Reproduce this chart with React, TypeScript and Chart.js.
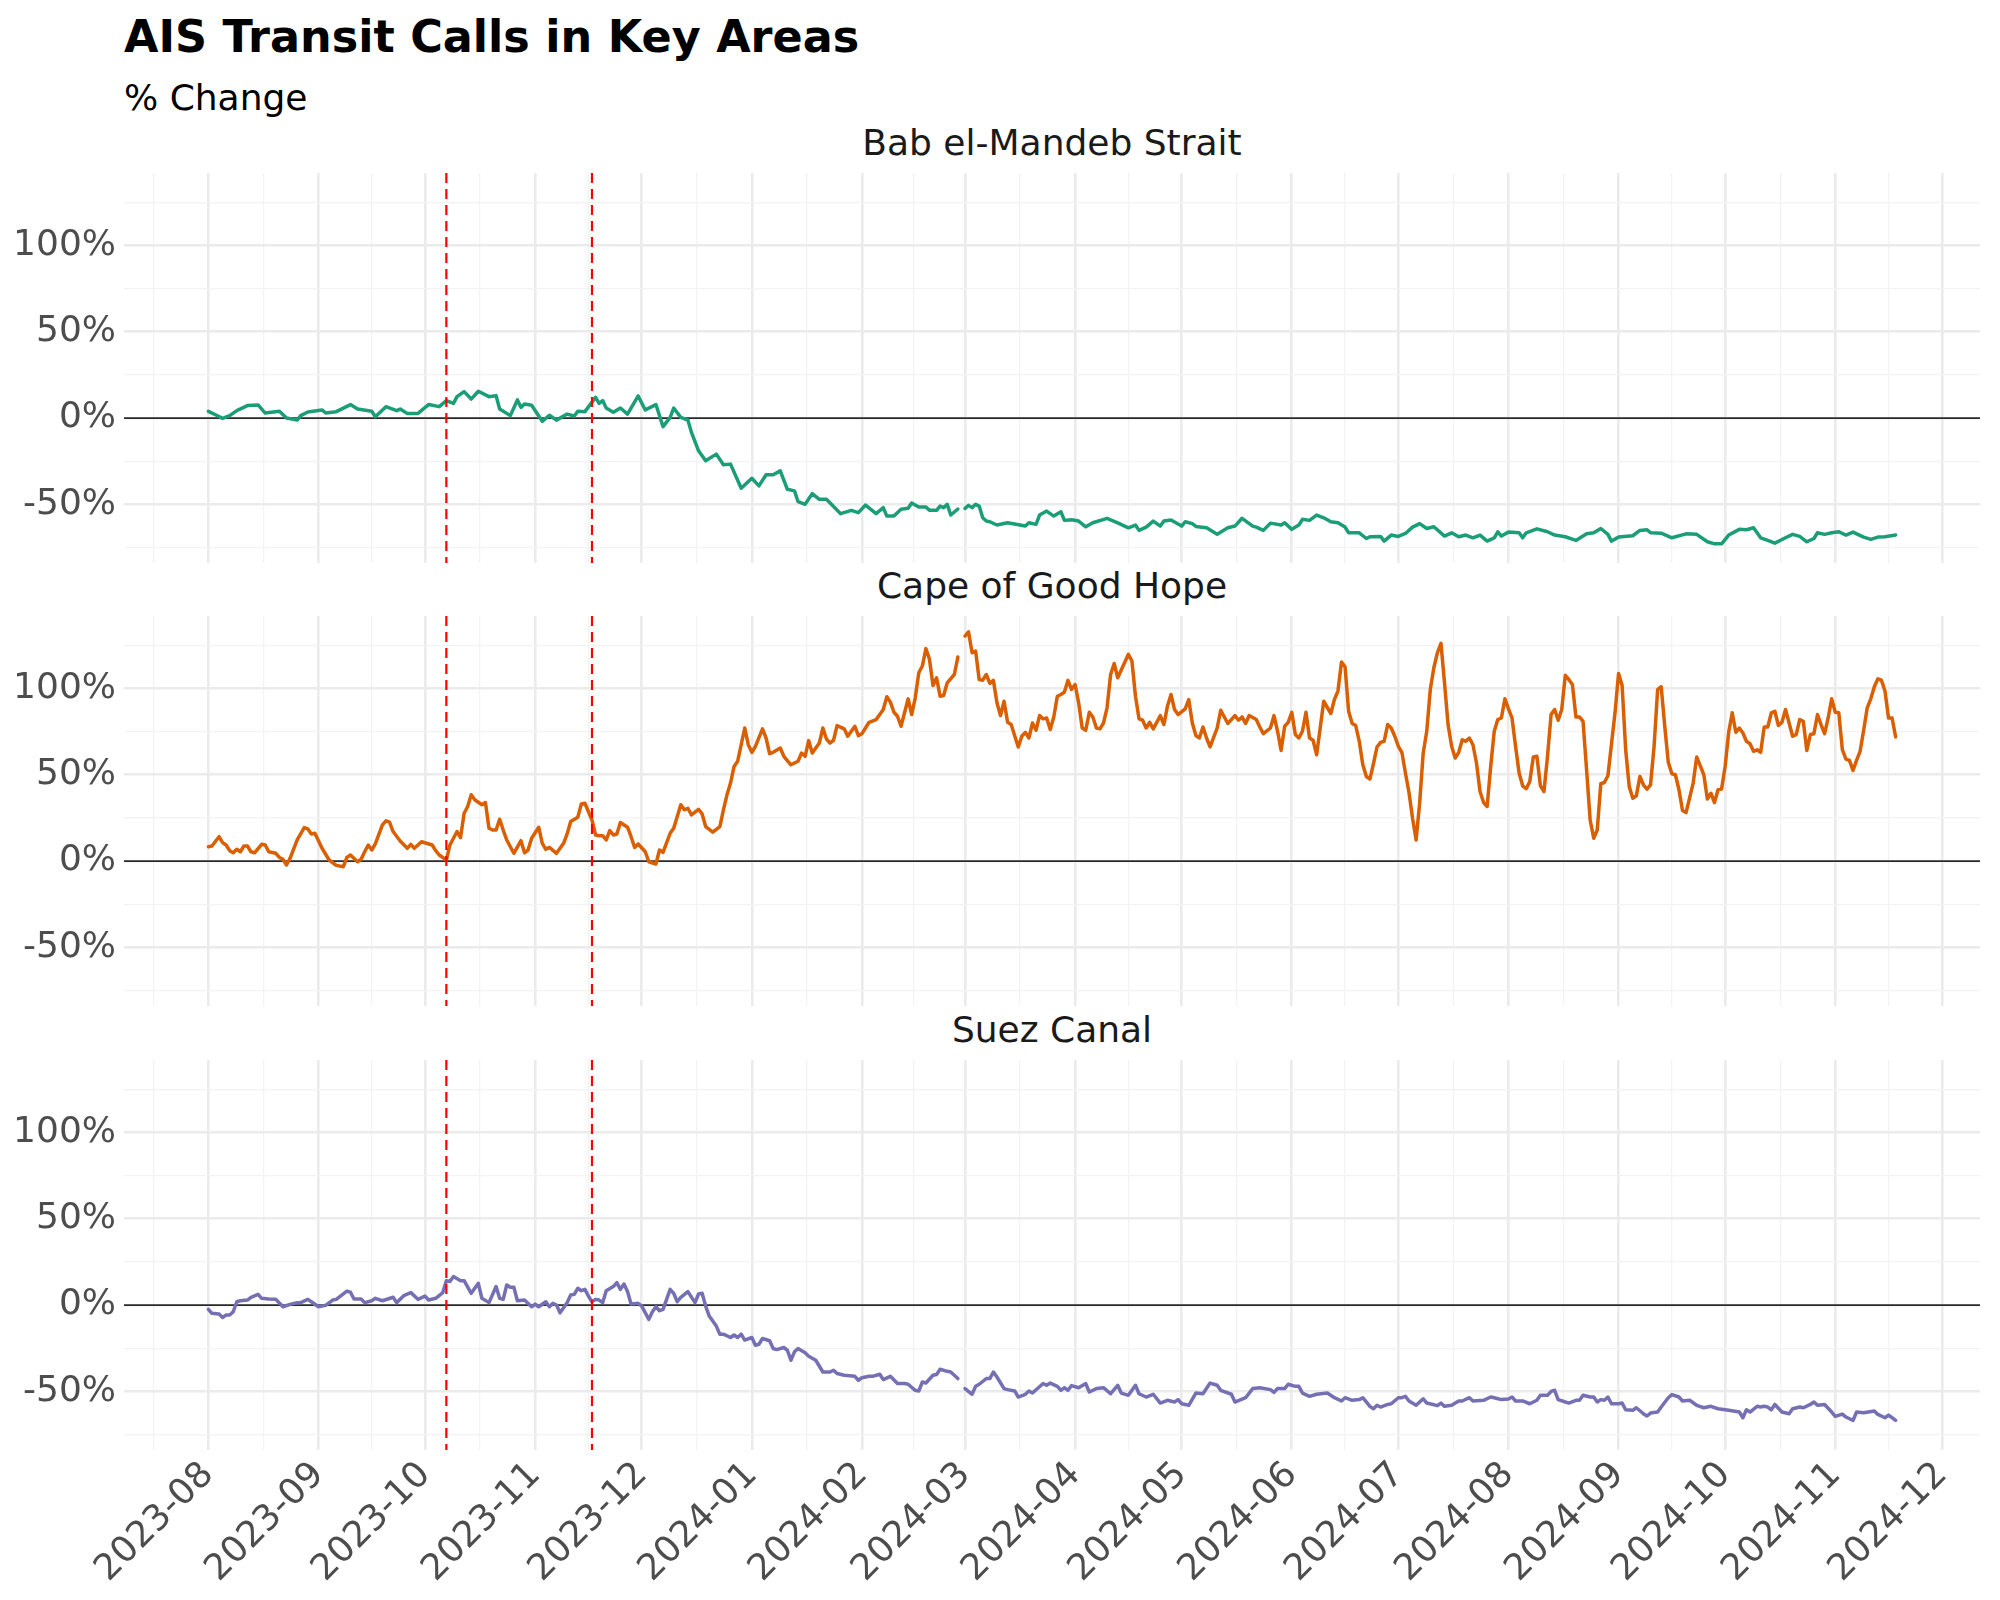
import React, { useEffect, useRef } from "react";
import { Chart, registerables } from "chart.js";

Chart.register(...registerables);

// ---------------- data ----------------
const START_DATE = "2023-08-01";
const MONTH_STARTS = [
  "2023-07-01", "2023-08-01", "2023-09-01", "2023-10-01", "2023-11-01", "2023-12-01",
  "2024-01-01", "2024-02-01", "2024-03-01", "2024-04-01", "2024-05-01", "2024-06-01",
  "2024-07-01", "2024-08-01", "2024-09-01", "2024-10-01", "2024-11-01", "2024-12-01", "2025-01-01",
];
const EVENT_DATES = ["2023-10-07", "2023-11-17"];
const Y_MAJOR = [-50, 0, 50, 100];
const Y_MINOR = [-75, -25, 25, 75, 125];
const TITLE = "AIS Transit Calls in Key Areas";
const SUBTITLE = "% Change";
const AREA_NAMES = ["Bab el-Mandeb Strait", "Cape of Good Hope", "Suez Canal"];
const AREA_COLORS = ["#1b9e77", "#d95f02", "#7570b3"];

// [days since START_DATE, % change]; null = missing day (2024-02-29)
const BAB: [number, number | null][] = [
  [0,3.9],[2,1.9],[4,-0.2],[6,1.4],[8,4.3],[11,7.2],[14,7.6],[16,2.9],[20,3.9],[22,0],[25,-1.2],[26,1.4],[28,3.5],[32,4.7],[33,2.9],[36,3.7],[40,7.8],[42,5.2],[46,3.9],[47,0.8],[50,6.6],[53,4.3],[54,5.2],[56,2.7],[59,2.7],[62,7.8],[65,6.6],[67,10.1],[69,8.5],[70,12.4],[72,15.3],[74,11.0],[76,15.5],[79,12.4],[81,13.0],[82,5.2],[85,1.4],[87,10.5],[88,6.2],[89,8.1],[91,7.4],[94,-1.9],[96,1.6],[98,-1.2],[101,2.3],[103,1.2],[104,3.9],[106,3.7],[109,12.0],[110,8.5],[111,10.1],[112,5.8],[114,3.3],[116,5.8],[118,2.3],[121,12.8],[123,4.7],[126,7.8],[128,-5.0],[130,0.4],[131,5.8],[133,0.4],[135,-1.2],[136,-8.3],[138,-19.0],[140,-24.8],[143,-20.9],[145,-27.1],[147,-26.7],[150,-40.7],[153,-34.9],[155,-39.3],[157,-32.9],[159,-32.9],[161,-30.6],[163,-41.3],[165,-42.2],[166,-48.4],[168,-50.0],[170,-43.8],[172,-47.1],[174,-47.1],[178,-55.4],[181,-53.5],[183,-54.8],[185,-50.4],[188,-55.4],[190,-51.9],[191,-56.8],[193,-56.8],[195,-52.9],[197,-52.3],[198,-49.2],[200,-51.5],[202,-51.5],[203,-53.5],[205,-53.5],[206,-51.0],[207,-51.9],[208,-50.0],[209,-56.2],[211,-52.7],[212,null],[213,-52.3],[214,-50.6],[215,-51.9],[216,-50.0],[217,-51.0],[218,-57.8],[219,-59.7],[220,-60.1],[222,-62.0],[225,-60.7],[230,-62.6],[231,-60.7],[233,-61.6],[234,-56.2],[236,-53.9],[238,-56.8],[240,-54.3],[241,-59.3],[243,-58.9],[245,-59.7],[247,-63.0],[249,-60.7],[253,-58.1],[256,-60.7],[259,-63.6],[261,-62.0],[262,-65.1],[264,-63.2],[266,-59.7],[268,-62.6],[269,-59.7],[271,-59.1],[274,-62.6],[275,-60.1],[277,-61.2],[278,-62.8],[281,-63.6],[284,-67.4],[287,-63.6],[289,-62.6],[291,-58.1],[294,-62.6],[295,-63.2],[297,-65.1],[299,-60.9],[302,-62.0],[303,-60.7],[305,-64.5],[307,-62.0],[308,-58.7],[310,-59.3],[312,-56.2],[314,-57.8],[316,-60.1],[318,-60.7],[320,-63.2],[321,-66.5],[324,-66.5],[326,-69.8],[327,-68.8],[330,-68.6],[331,-71.3],[333,-67.8],[335,-68.6],[337,-66.9],[339,-63.2],[341,-61.2],[343,-64.0],[345,-63.0],[348,-68.4],[350,-66.5],[352,-68.8],[354,-67.8],[356,-69.4],[358,-67.8],[360,-71.3],[362,-69.4],[363,-65.9],[364,-68.4],[366,-66.1],[369,-66.5],[370,-69.4],[371,-66.5],[374,-64.2],[377,-65.9],[379,-67.8],[382,-68.8],[385,-70.9],[388,-67.1],[390,-66.5],[392,-64.0],[394,-67.4],[395,-71.3],[397,-69.0],[401,-68.2],[403,-65.1],[405,-64.7],[406,-66.5],[409,-66.7],[412,-69.4],[416,-67.1],[419,-67.4],[422,-71.7],[424,-72.9],[426,-72.9],[428,-67.8],[431,-64.5],[433,-64.7],[435,-63.6],[437,-69.4],[439,-70.9],[441,-72.5],[444,-69.4],[446,-67.4],[448,-68.6],[450,-71.7],[452,-69.8],[453,-66.5],[455,-67.4],[457,-66.5],[459,-65.9],[461,-67.8],[463,-66.1],[466,-69.0],[468,-70.3],[470,-69.0],[472,-68.8],[475,-67.8],
];

const CAPE: [number, number | null][] = [
  [0,8.3],[1,8.7],[3,14.1],[4,10.7],[5,9.3],[6,6.0],[7,4.8],[8,6.8],[9,5.4],[10,8.7],[11,8.7],[12,5.4],[13,4.8],[15,9.7],[16,9.3],[17,5.4],[19,4.5],[20,2.1],[21,1.0],[22,-2.3],[23,1.6],[25,12.2],[27,19.4],[28,18.6],[29,15.7],[30,16.1],[32,7.4],[34,0.6],[36,-2.5],[38,-3.3],[39,2.1],[40,3.5],[42,-0.4],[43,1.0],[44,5.4],[45,9.3],[46,6.4],[47,9.9],[49,20.9],[50,23.3],[51,22.5],[52,17.1],[54,11.6],[56,7.4],[57,9.7],[58,7.4],[60,11.2],[63,9.3],[64,6.0],[65,3.5],[67,0.6],[68,9.3],[70,17.1],[71,13.6],[72,27.7],[73,31.6],[74,38.4],[75,35.5],[77,32.6],[78,33.9],[79,19.0],[80,18.0],[81,18.0],[82,24.2],[83,18.0],[84,12.2],[86,4.5],[88,11.8],[89,4.8],[90,6.4],[91,13.2],[93,19.6],[94,10.3],[95,6.8],[96,7.9],[98,4.5],[100,10.3],[101,15.7],[102,22.9],[104,25.4],[105,33.1],[106,33.5],[108,23.8],[109,15.1],[110,14.7],[111,14.7],[112,12.2],[113,17.6],[114,15.1],[115,15.7],[116,22.3],[118,19.6],[119,14.1],[120,7.9],[121,9.9],[123,5.4],[124,-0.4],[126,-1.7],[127,6.4],[128,5.0],[130,16.1],[131,19.0],[133,32.6],[134,29.7],[135,30.6],[136,26.7],[138,30.0],[139,27.3],[140,20.0],[142,16.7],[144,20.0],[145,29.7],[146,38.4],[147,45.2],[148,54.8],[149,57.8],[151,77.1],[152,67.4],[153,63.0],[154,66.5],[156,76.6],[157,71.3],[158,62.2],[159,63.0],[161,65.5],[162,60.7],[164,55.8],[165,56.8],[166,57.8],[167,62.6],[168,60.7],[169,69.8],[170,62.6],[172,68.4],[173,77.1],[174,70.7],[175,68.4],[176,70.0],[177,78.5],[179,76.6],[180,72.3],[182,78.1],[183,72.7],[184,73.8],[186,80.4],[188,82.0],[190,87.8],[191,95.2],[192,92.1],[193,86.2],[194,83.9],[195,78.1],[197,94.0],[198,84.9],[199,94.6],[200,109.1],[201,113.0],[202,123.1],[203,116.9],[204,101.7],[205,106.2],[206,95.5],[207,95.9],[208,103.3],[210,108.1],[211,118.2],[212,null],[213,130.4],[214,132.8],[215,120.7],[216,121.7],[217,105.2],[218,104.8],[219,108.1],[220,102.9],[221,104.7],[222,91.7],[223,84.3],[224,92.6],[225,80.4],[226,79.1],[228,66.1],[229,72.3],[230,74.6],[231,71.3],[232,80.0],[233,75.8],[234,84.3],[235,82.4],[236,82.9],[237,76.2],[238,83.5],[239,95.5],[240,96.5],[241,97.9],[242,104.7],[243,99.4],[244,102.3],[245,91.7],[246,77.1],[247,75.8],[248,86.2],[249,83.5],[250,77.1],[251,76.6],[252,80.0],[253,88.8],[254,108.1],[255,114.5],[256,106.2],[257,110.7],[259,119.8],[260,115.9],[261,95.5],[262,82.4],[263,81.6],[264,77.1],[265,80.4],[266,76.6],[268,84.3],[269,79.1],[270,89.7],[271,96.5],[272,87.8],[273,84.9],[275,88.2],[276,93.6],[277,80.0],[278,72.7],[279,71.3],[280,77.7],[281,71.3],[282,66.1],[284,77.1],[285,87.4],[287,79.7],[289,84.3],[290,81.6],[291,83.5],[292,79.7],[293,84.3],[295,82.0],[296,77.7],[297,73.8],[299,77.1],[300,84.3],[301,75.2],[302,64.1],[303,78.1],[304,80.4],[305,86.2],[306,73.3],[307,71.3],[308,75.2],[309,86.2],[310,71.3],[311,70.0],[312,61.6],[314,92.6],[316,85.5],[317,93.6],[318,98.5],[319,115.3],[320,112.6],[321,86.8],[322,79.7],[323,78.5],[324,69.4],[325,55.8],[326,49.0],[327,47.5],[328,56.4],[329,66.1],[330,68.8],[331,69.4],[332,79.1],[333,77.1],[334,72.3],[335,66.5],[336,63.0],[337,51.0],[338,39.7],[339,24.8],[340,12.2],[341,33.5],[342,62.6],[343,75.2],[344,99.4],[345,112.0],[346,120.7],[347,126.2],[348,103.3],[349,79.1],[350,66.5],[351,59.7],[352,63.0],[353,70.3],[354,69.4],[355,71.3],[356,67.4],[357,56.8],[358,40.3],[359,33.9],[360,31.6],[361,54.8],[362,75.2],[363,82.0],[364,82.9],[365,94.0],[366,88.2],[367,82.9],[368,66.5],[369,51.0],[370,43.6],[371,41.9],[372,46.1],[373,60.3],[374,60.7],[375,43.6],[376,40.3],[377,60.7],[378,84.9],[379,87.8],[380,81.6],[381,87.8],[382,107.6],[383,105.2],[384,102.3],[385,83.5],[386,83.5],[387,81.0],[388,52.9],[389,23.8],[390,13.2],[391,18.0],[392,44.8],[393,45.5],[394,49.4],[396,85.9],[397,108.7],[398,101.7],[399,64.5],[400,43.2],[401,36.4],[402,37.8],[403,49.0],[404,44.2],[405,41.7],[406,44.2],[407,66.5],[408,99.4],[409,101.0],[410,78.1],[411,57.2],[412,50.6],[413,50.0],[414,41.3],[415,29.3],[416,28.1],[418,45.2],[419,60.3],[420,55.2],[421,50.0],[422,35.9],[423,39.3],[424,33.9],[425,41.3],[426,41.7],[427,54.8],[428,74.6],[429,85.9],[430,74.6],[431,77.1],[432,74.2],[433,69.4],[434,68.0],[435,63.6],[436,64.5],[437,63.0],[438,77.7],[439,77.7],[440,85.9],[441,86.8],[442,78.5],[443,80.4],[444,87.8],[446,72.3],[447,73.3],[448,82.0],[449,81.0],[450,64.1],[451,73.3],[452,73.8],[453,84.9],[454,79.1],[455,73.8],[456,82.9],[457,94.0],[458,86.2],[459,85.9],[460,64.5],[461,59.1],[462,58.3],[463,52.5],[464,58.3],[465,63.6],[466,75.8],[467,88.8],[468,94.0],[469,101.0],[470,105.6],[471,104.8],[472,98.5],[473,82.9],[474,82.9],[475,71.9],
];

const SUEZ: [number, number | null][] = [
  [0,-2.5],[1,-4.8],[3,-5.2],[4,-7.2],[5,-5.8],[6,-5.8],[7,-3.9],[8,1.9],[9,2.5],[11,2.9],[12,4.5],[14,6.2],[15,3.9],[17,3.5],[19,3.3],[21,-1.0],[23,0.4],[25,1.4],[26,1.4],[28,3.3],[29,1.9],[31,-1.0],[33,-0.2],[35,2.9],[36,3.3],[39,8.1],[40,7.4],[41,3.5],[43,3.5],[44,1.4],[46,2.5],[47,3.9],[49,2.5],[52,4.5],[53,1.4],[55,5.4],[57,7.2],[59,3.3],[61,5.2],[62,2.9],[64,3.9],[66,7.2],[67,14.1],[68,13.6],[69,16.5],[71,14.1],[72,14.1],[74,6.8],[76,12.6],[77,3.9],[79,1.4],[81,10.7],[82,3.9],[83,3.3],[84,11.6],[85,10.3],[86,10.3],[87,2.5],[89,2.9],[91,-1.0],[92,0.6],[93,-1.0],[95,1.9],[96,-1.0],[97,1.0],[98,0],[99,-4.5],[101,1.4],[102,5.8],[103,6.2],[104,9.7],[105,8.3],[106,9.1],[107,5.2],[108,1.9],[109,3.3],[110,2.9],[111,1.4],[112,8.3],[114,10.7],[115,13.0],[116,9.1],[117,12.2],[118,7.8],[119,0.6],[121,1.0],[122,-0.6],[124,-8.3],[125,-3.9],[126,-1.0],[127,-3.3],[128,-2.5],[130,9.1],[131,6.8],[132,1.9],[133,4.5],[135,7.8],[137,1.4],[138,6.4],[139,6.8],[140,-0.6],[141,-6.4],[143,-12.2],[144,-16.9],[145,-16.9],[147,-18.8],[148,-17.4],[149,-18.8],[150,-16.9],[151,-20.3],[153,-18.8],[154,-23.3],[155,-22.7],[156,-19.4],[158,-20.7],[159,-25.2],[160,-25.8],[162,-24.6],[163,-26.2],[164,-32.0],[165,-27.1],[166,-25.2],[168,-27.7],[169,-29.7],[171,-32.0],[173,-38.8],[175,-38.8],[176,-37.8],[177,-39.7],[179,-40.7],[182,-41.3],[183,-43.6],[184,-42.1],[186,-41.3],[187,-41.3],[189,-40.1],[190,-43.2],[192,-41.3],[194,-45.5],[196,-45.5],[197,-45.9],[199,-49.4],[200,-49.8],[201,-44.6],[202,-45.2],[204,-40.7],[205,-40.3],[206,-37.2],[208,-38.4],[209,-38.8],[211,-42.6],[212,null],[213,-48.4],[215,-51.7],[216,-47.1],[217,-45.9],[219,-42.6],[220,-42.6],[221,-38.8],[222,-41.7],[224,-48.4],[225,-49.0],[227,-49.8],[228,-53.3],[230,-51.7],[231,-49.8],[232,-51.0],[235,-45.5],[236,-46.5],[237,-45.2],[239,-47.1],[240,-49.4],[241,-47.9],[242,-49.4],[243,-46.7],[245,-47.9],[247,-45.5],[248,-50.4],[250,-48.4],[252,-47.9],[254,-51.4],[256,-46.5],[257,-51.0],[259,-52.3],[261,-46.5],[262,-51.4],[264,-53.3],[266,-51.7],[268,-56.8],[270,-55.2],[272,-56.2],[273,-54.8],[274,-57.2],[276,-58.1],[278,-51.0],[280,-51.4],[282,-45.2],[284,-46.5],[285,-49.4],[288,-51.7],[289,-56.2],[292,-53.7],[294,-48.4],[296,-47.9],[299,-49.0],[300,-50.6],[301,-48.4],[303,-48.4],[304,-45.9],[306,-47.1],[307,-47.1],[308,-51.0],[310,-52.9],[312,-51.7],[315,-51.0],[317,-53.7],[319,-55.6],[320,-53.7],[322,-55.2],[324,-54.8],[325,-53.7],[327,-58.7],[328,-60.1],[329,-58.1],[330,-59.1],[332,-57.6],[333,-57.2],[335,-53.7],[336,-53.7],[337,-52.9],[338,-55.6],[340,-58.1],[342,-54.3],[343,-56.8],[346,-58.3],[347,-56.8],[348,-58.7],[350,-58.1],[352,-55.6],[353,-55.6],[355,-53.7],[356,-55.6],[359,-55.2],[361,-53.3],[362,-53.7],[364,-54.8],[366,-54.4],[367,-53.3],[368,-55.6],[370,-55.6],[372,-57.2],[374,-55.2],[375,-52.3],[377,-52.3],[378,-50.0],[379,-49.4],[380,-54.8],[382,-56.2],[383,-56.8],[385,-55.2],[386,-55.2],[387,-52.3],[389,-53.3],[390,-53.3],[391,-56.2],[392,-54.8],[393,-55.2],[394,-53.3],[395,-57.2],[397,-57.2],[398,-56.8],[399,-60.7],[401,-61.0],[402,-59.5],[404,-63.0],[405,-64.3],[406,-62.6],[408,-62.0],[409,-59.1],[411,-53.7],[412,-51.9],[414,-53.3],[415,-55.6],[417,-55.2],[419,-58.1],[421,-59.5],[423,-58.7],[425,-60.1],[428,-61.0],[431,-62.0],[432,-65.3],[433,-60.7],[434,-62.0],[436,-58.7],[437,-59.1],[438,-58.7],[439,-59.1],[440,-60.7],[441,-57.6],[443,-62.0],[445,-63.0],[446,-60.1],[448,-59.1],[449,-59.5],[451,-57.6],[452,-56.2],[453,-58.1],[455,-57.6],[457,-62.0],[458,-64.5],[460,-63.2],[461,-64.9],[463,-66.9],[464,-62.0],[466,-62.4],[469,-61.4],[470,-63.4],[472,-65.3],[473,-63.8],[474,-65.3],[475,-66.9],
];

const SERIES = [BAB, CAPE, SUEZ];

// ---------------- layout / style ----------------
const FONT = '"DejaVu Sans", "Liberation Sans", sans-serif';
const PLOT_LEFT = 124;
const PLOT_RIGHT = 1980;
const PANEL_TOPS = [173, 616, 1060];
const PANEL_H = 390;
const X_AXIS_H = 150;
const Y_MIN = -84;
const Y_MAX = 142;
const AXIS_TEXT = 36;

const dayOf = (s: string) =>
  Math.round((Date.parse(s) - Date.parse(START_DATE)) / 86400000);

const lastDay = Math.max(...BAB.map((p) => p[0]));
const firstDay = 0;
const X_PAD = (lastDay - firstDay) * 0.05;
const X_MIN = firstDay - X_PAD;
const X_MAX = lastDay + X_PAD;

const majorDays = MONTH_STARTS.map(dayOf);
const minorDays = majorDays.slice(1).map((d, i) => (d + majorDays[i]) / 2);
const inRange = (v: number) => v >= X_MIN && v <= X_MAX;
const X_MAJOR = majorDays.filter(inRange);
const X_MINOR = minorDays.filter(inRange);
const X_LABELS = new Map<number, string>(
  MONTH_STARTS.map((s) => [dayOf(s), s.slice(0, 7)] as [number, string])
);
const EVENT_DAYS = EVENT_DATES.map(dayOf);

const zeroLine = {
  id: "zeroLine",
  beforeDatasetsDraw(chart: any) {
    const { ctx, chartArea, scales } = chart;
    const y = scales.y.getPixelForValue(0);
    ctx.save();
    ctx.strokeStyle = "#2b2b2b";
    ctx.lineWidth = 1.8;
    ctx.beginPath();
    ctx.moveTo(chartArea.left, y);
    ctx.lineTo(chartArea.right, y);
    ctx.stroke();
    ctx.restore();
  },
};

const eventLines = {
  id: "eventLines",
  afterDatasetsDraw(chart: any) {
    const { ctx, chartArea, scales } = chart;
    ctx.save();
    ctx.strokeStyle = "#ff0000";
    ctx.lineWidth = 2.2;
    ctx.setLineDash([10, 6]);
    EVENT_DAYS.forEach((d) => {
      const x = scales.x.getPixelForValue(d);
      ctx.beginPath();
      ctx.moveTo(x, chartArea.top);
      ctx.lineTo(x, chartArea.bottom);
      ctx.stroke();
    });
    ctx.restore();
  },
};

function makeConfig(i: number): any {
  const isBottom = i === SERIES.length - 1;
  const xMajorSet = new Set(X_MAJOR);
  const yMajorSet = new Set(Y_MAJOR);
  return {
    type: "line",
    data: {
      datasets: [
        {
          data: SERIES[i].map(([d, v]) => ({ x: d, y: v })),
          borderColor: AREA_COLORS[i],
          borderWidth: 3.5,
          pointRadius: 0,
          fill: false,
          tension: 0,
          spanGaps: false,
          borderJoinStyle: "round",
          borderCapStyle: "round",
        },
      ],
    },
    options: {
      responsive: false,
      animation: false,
      devicePixelRatio: 1,
      layout: { padding: 0 },
      events: [],
      plugins: {
        legend: { display: false },
        tooltip: { enabled: false },
        title: { display: false },
      },
      scales: {
        x: {
          type: "linear",
          min: X_MIN,
          max: X_MAX,
          border: { display: false },
          grid: {
            drawTicks: false,
            color: (c: any) => (xMajorSet.has(c.tick?.value) ? "#ebebeb" : "#f3f3f3"),
            lineWidth: (c: any) => (xMajorSet.has(c.tick?.value) ? 2.6 : 1.3),
          },
          afterBuildTicks: (s: any) => {
            s.ticks = [...X_MINOR, ...X_MAJOR].sort((a, b) => a - b).map((v) => ({ value: v }));
          },
          ticks: {
            display: isBottom,
            autoSkip: false,
            maxRotation: 45,
            minRotation: 45,
            padding: 4,
            color: "#4d4d4d",
            font: { family: FONT, size: AXIS_TEXT },
            callback: (v: any) => (xMajorSet.has(v) ? X_LABELS.get(v) ?? "" : ""),
          },
          afterFit: (s: any) => {
            s.height = isBottom ? X_AXIS_H : 0;
            s.paddingLeft = 0;
            s.paddingRight = 0;
          },
        },
        y: {
          type: "linear",
          min: Y_MIN,
          max: Y_MAX,
          border: { display: false },
          grid: {
            drawTicks: false,
            color: (c: any) => (yMajorSet.has(c.tick?.value) ? "#ebebeb" : "#f3f3f3"),
            lineWidth: (c: any) => (yMajorSet.has(c.tick?.value) ? 2.6 : 1.3),
          },
          afterBuildTicks: (s: any) => {
            s.ticks = [...Y_MINOR, ...Y_MAJOR].sort((a, b) => a - b).map((v) => ({ value: v }));
          },
          ticks: {
            autoSkip: false,
            padding: 8,
            color: "#4d4d4d",
            font: { family: FONT, size: AXIS_TEXT },
            callback: (v: any) => (yMajorSet.has(v) ? `${v}%` : ""),
          },
          afterFit: (s: any) => {
            s.width = PLOT_LEFT;
            s.paddingTop = 0;
            s.paddingBottom = 0;
          },
        },
      },
    },
    plugins: [zeroLine, eventLines],
  };
}

export default function App() {
  const r0 = useRef<HTMLCanvasElement>(null);
  const r1 = useRef<HTMLCanvasElement>(null);
  const r2 = useRef<HTMLCanvasElement>(null);
  const refs = [r0, r1, r2];

  useEffect(() => {
    const charts = refs.map((r, i) => new Chart(r.current as HTMLCanvasElement, makeConfig(i)));
    return () => charts.forEach((c) => c.destroy());
  }, []);

  return (
    <div
      style={{
        position: "absolute",
        left: 0,
        top: 0,
        width: 2000,
        height: 1600,
        background: "#ffffff",
        fontFamily: FONT,
        overflow: "hidden",
      }}
    >
      <div
        style={{
          position: "absolute",
          left: PLOT_LEFT,
          top: 15,
          fontSize: 44.5,
          lineHeight: "44.5px",
          fontWeight: "bold",
          color: "#000",
          whiteSpace: "nowrap",
        }}
      >
        {TITLE}
      </div>
      <div
        style={{
          position: "absolute",
          left: PLOT_LEFT,
          top: 80,
          fontSize: 36,
          lineHeight: "36px",
          color: "#000",
          whiteSpace: "nowrap",
        }}
      >
        {SUBTITLE}
      </div>
      {AREA_NAMES.map((name, i) => {
        const isBottom = i === AREA_NAMES.length - 1;
        const h = PANEL_H + (isBottom ? X_AXIS_H : 0);
        return (
          <React.Fragment key={name}>
            <div
              style={{
                position: "absolute",
                left: PLOT_LEFT,
                width: PLOT_RIGHT - PLOT_LEFT,
                top: PANEL_TOPS[i] - 48,
                fontSize: 36,
                lineHeight: "36px",
                textAlign: "center",
                color: "#1a1a1a",
                whiteSpace: "nowrap",
              }}
            >
              {name}
            </div>
            <canvas
              ref={refs[i]}
              width={PLOT_RIGHT}
              height={h}
              style={{ position: "absolute", left: 0, top: PANEL_TOPS[i], width: PLOT_RIGHT, height: h }}
            />
          </React.Fragment>
        );
      })}
    </div>
  );
}
